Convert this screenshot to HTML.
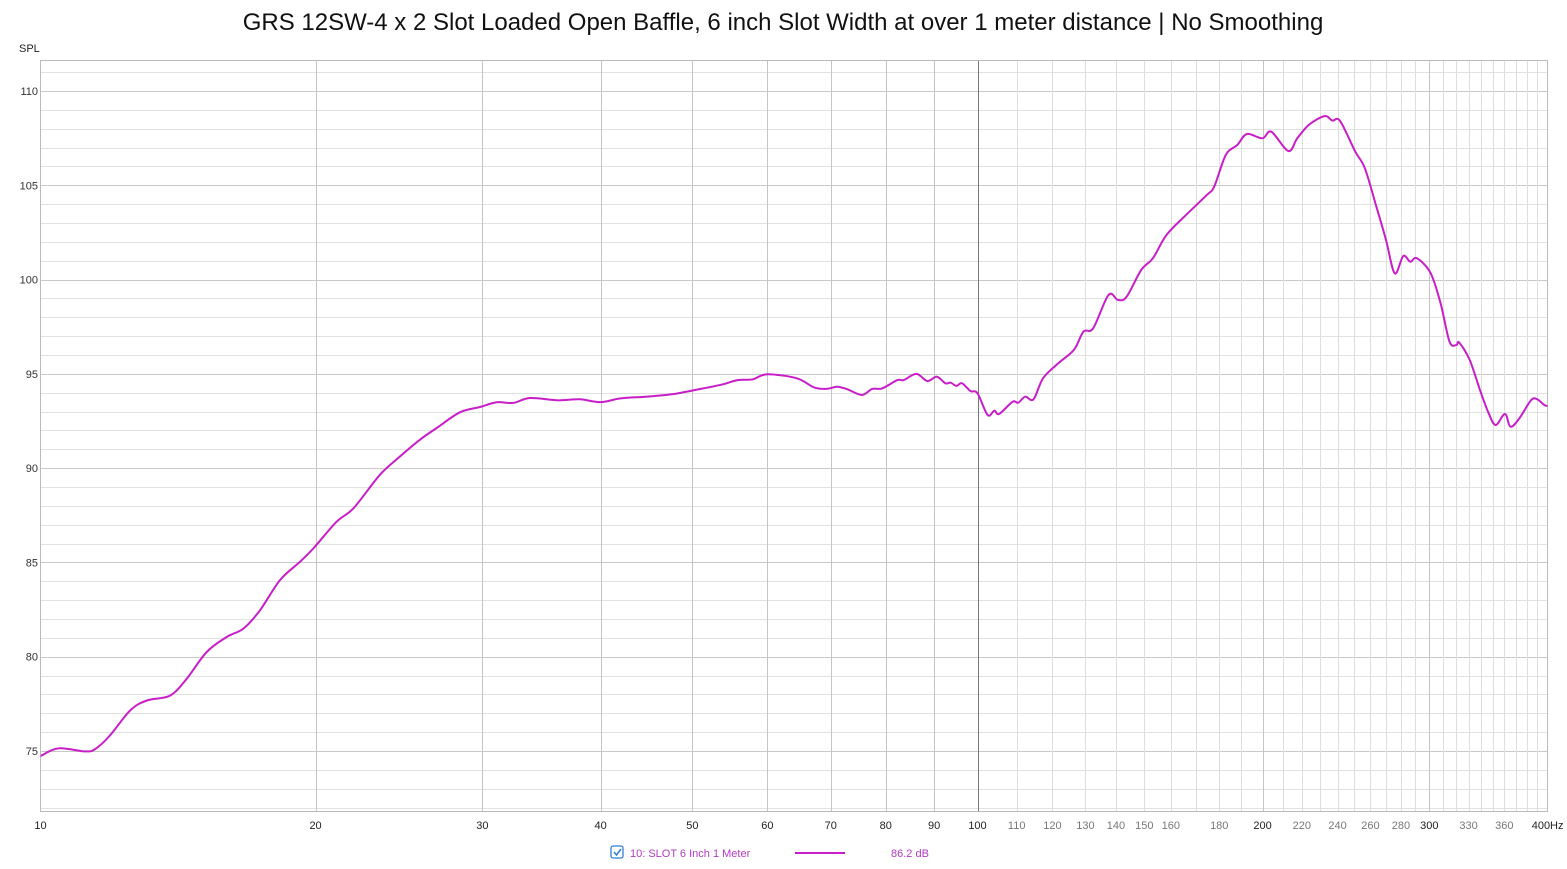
<!DOCTYPE html>
<html><head><meta charset="utf-8"><style>
html,body{margin:0;padding:0;background:#fff;}
body{width:1567px;height:864px;overflow:hidden;font-family:"Liberation Sans",sans-serif;}
</style></head><body>
<svg id="chart" width="1567" height="864" xmlns="http://www.w3.org/2000/svg">
<text x="783" y="30" text-anchor="middle" font-size="24" fill="#111">GRS 12SW-4 x 2 Slot Loaded Open Baffle, 6 inch Slot Width at over 1 meter distance | No Smoothing</text>
<text x="19" y="52" font-size="11" fill="#222">SPL</text>
<g id="grid"></g>
<g id="axes"></g>
<g id="series"></g>
<g>
<rect x="611" y="846" width="12" height="12" rx="2" fill="#fff" stroke="#2f7fd0" stroke-width="1.3"/>
<path d="M614 852 l2.5 3 l4.5 -6" fill="none" stroke="#2f7fd0" stroke-width="1.5"/>
<text x="630" y="857" font-size="11" fill="#b13ac0">10: SLOT 6 Inch 1 Meter</text>
<line x1="795" y1="853" x2="845" y2="853" stroke="#c81ec8" stroke-width="2"/>
<text x="891" y="857" font-size="11" fill="#b13ac0">86.2 dB</text>
</g>
</svg>
<script>
const freqs=[10.26,10.70,11.42,11.70,12.13,12.74,13.27,14.04,14.62,15.35,16.12,16.78,17.47,18.34,19.26,19.89,21.05,21.93,23.39,24.56,25.78,26.85,28.41,29.83,31.07,32.35,33.69,36,38,40,42,45,48,51.0,53.9,55.8,57.9,60,64.5,67.2,69.4,71.1,72.9,75.5,77.4,79.3,82.3,83.6,86.2,88.5,90.6,92.5,93.7,95.0,96.3,98.3,100,102.5,104.2,105.4,108.9,110.4,112.3,114.6,117.3,121.7,126.4,129.4,132.5,137.5,140.7,143.7,148.9,153.2,158.3,166.0,174.6,177.8,182.9,188.1,192.5,199.9,204.3,212.9,217.6,223.8,232.5,237,241.5,250.6,256.5,263.8,270,275.8,281.6,286.4,291.1,301,308.3,315.1,320.4,322.6,330.9,339.8,346.6,352.5,360.6,365.4,373.4,384.3,390,396.7,400];
const spl=[74.75,75.14,74.98,75.1,75.82,77.15,77.68,77.94,78.83,80.25,81.05,81.49,82.46,84.06,85.04,85.74,87.16,87.87,89.65,90.62,91.51,92.13,92.96,93.24,93.49,93.46,93.72,93.6,93.65,93.5,93.7,93.8,93.95,94.2,94.45,94.67,94.71,94.98,94.76,94.28,94.21,94.32,94.18,93.88,94.2,94.23,94.67,94.67,95.0,94.62,94.85,94.5,94.53,94.36,94.5,94.09,93.97,92.82,93.05,92.87,93.52,93.47,93.79,93.65,94.77,95.56,96.27,97.24,97.42,99.18,98.92,99.09,100.51,101.13,102.36,103.42,104.48,104.93,106.61,107.14,107.72,107.49,107.84,106.82,107.49,108.2,108.67,108.43,108.41,106.78,105.9,103.86,102.1,100.33,101.25,100.95,101.13,100.33,98.74,96.71,96.53,96.66,95.74,94.05,92.91,92.29,92.87,92.2,92.64,93.61,93.65,93.35,93.3];
const xTicks=[10,20,30,40,50,60,70,80,90,100,110,120,130,140,150,160,180,200,220,240,260,280,300,330,360,400];
const yTicks=[75,80,85,90,95,100,105,110];
const NS='http://www.w3.org/2000/svg';
const L=40.5,R=1547.5,T=60.5,B=811.5;
function x(f){return 30.5+947*Math.log10(f/10);}
function y(d){return 91+(110-d)*18.857;}
function mk(tag,attrs,parent){const e=document.createElementNS(NS,tag);for(const k in attrs)e.setAttribute(k,attrs[k]);parent.appendChild(e);return e;}
const grid=document.getElementById('grid'),axes=document.getElementById('axes'),series=document.getElementById('series');
for(let d=72;d<=111;d++){const yy=Math.round(y(d))+0.5;if(yy<T||yy>B)continue;const major=d%5===0;
const ln=mk('line',{x1:L,x2:R,y1:yy,y2:yy,stroke:major?'#c8c8c8':'#e2e2e2','stroke-width':1},grid);

}
const vlines=[];for(let f=20;f<=90;f+=10)vlines.push(f);for(let f=100;f<400;f+=10)vlines.push(f);
vlines.forEach(f=>{const xx=Math.round(x(f))+0.5;const major=(f===100);const mid=[20,30,40,50,60,70,80,90,200,300].includes(f);
const ln=mk('line',{x1:xx,x2:xx,y1:T,y2:B,stroke:major?'#777':(mid?'#c4c4c4':'#dedede'),'stroke-width':1},grid);

});
const fr=mk('rect',{x:L,y:T,width:R-L,height:B-T,fill:'none',stroke:'#bbb','stroke-width':1},axes);


yTicks.forEach(d=>{const t=mk('text',{x:38,y:y(d)+4,'text-anchor':'end','font-size':11,fill:'#333'},axes);t.textContent=d;

});
xTicks.forEach(f=>{let xx=x(f);let anchor='middle';let label=String(f);let col=(f<=100||f===200||f===300)?'#222':'#777';
if(f===10){xx=L;}
if(f===400){label='400Hz';anchor='end';xx=R+16;col='#222';}
const t=mk('text',{x:xx,y:829,'text-anchor':anchor,'font-size':11,fill:col},axes);t.textContent=label;

});
const pts=freqs.map((f,i)=>[x(f),y(spl[i])]);
let d='M'+pts[0][0].toFixed(1)+' '+pts[0][1].toFixed(1);
for(let i=0;i<pts.length-1;i++){const p0=pts[i-1]||pts[i],p1=pts[i],p2=pts[i+1],p3=pts[i+2]||p2;
const c1=[p1[0]+(p2[0]-p0[0])/6,p1[1]+(p2[1]-p0[1])/6],c2=[p2[0]-(p3[0]-p1[0])/6,p2[1]-(p3[1]-p1[1])/6];
d+='C'+c1[0].toFixed(1)+' '+c1[1].toFixed(1)+' '+c2[0].toFixed(1)+' '+c2[1].toFixed(1)+' '+p2[0].toFixed(1)+' '+p2[1].toFixed(1);}
const cp=mk('clipPath',{id:'clip'},series);mk('rect',{x:L,y:T,width:R-L,height:B-T},cp);
const p=mk('path',{d:d,fill:'none',stroke:'#c81ec8','stroke-width':2,'stroke-linejoin':'round','stroke-linecap':'round','clip-path':'url(#clip)'},series);


</script>
</body></html>
